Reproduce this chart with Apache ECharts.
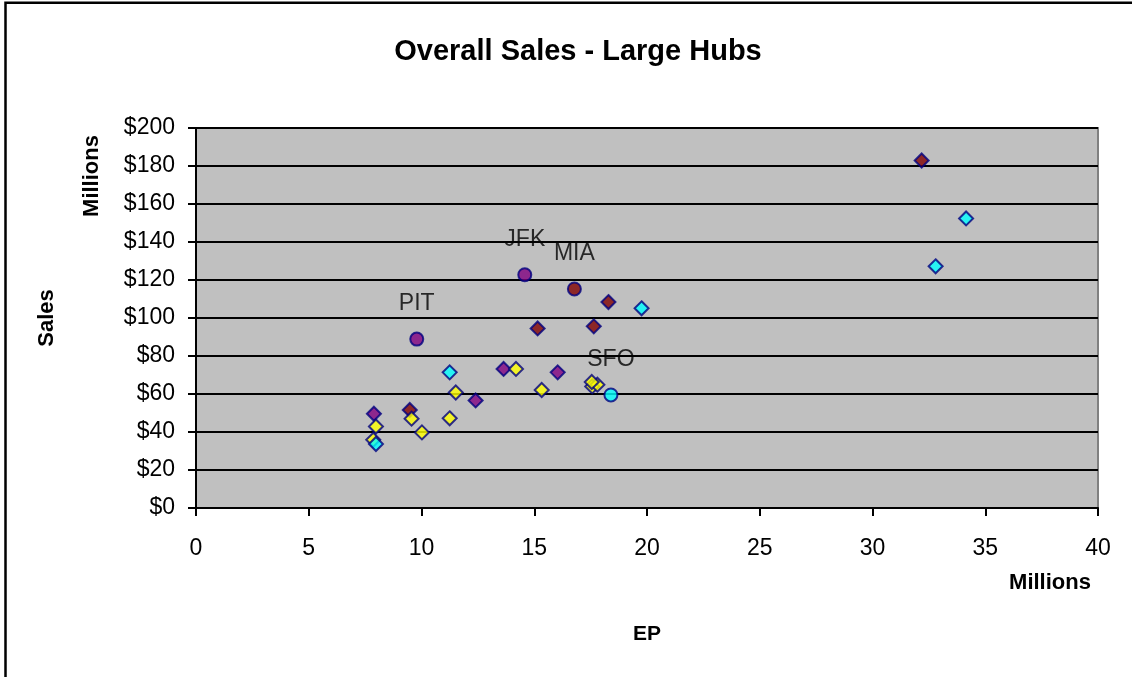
<!DOCTYPE html>
<html>
<head>
<meta charset="utf-8">
<title>Overall Sales - Large Hubs</title>
<script src="https://cdn.jsdelivr.net/npm/echarts@6/dist/echarts.min.js"></script>
<style>
  html, body { margin: 0; padding: 0; background: #fff; }
  #chart { width: 1132px; height: 677px; }
</style>
</head>
<body>
<div id="chart"></div>
<script>
// EP (millions) / Sales (millions) pairs, one array per marker colour
var maroonPts = [[9.48, 51.6], [15.15, 94.5], [17.64, 95.6], [18.29, 108.4], [32.18, 182.9]];
var purplePts = [[7.89, 49.6], [12.4, 56.6], [13.64, 73.2], [16.04, 71.4]];
var yellowPts = [[7.86, 35.9], [7.98, 42.9], [9.56, 47.0], [10.02, 39.8], [11.25, 47.2],
                 [11.52, 60.8], [14.19, 73.2], [15.33, 62.1], [17.57, 64.0], [17.8, 64.9], [17.55, 66.3]];
var cyanPts = [[7.98, 33.7], [11.25, 71.4], [19.76, 105.1], [32.8, 127.2], [34.15, 152.4]];

// labelled hubs (drawn as circles)
var hubNames = ['JFK', 'MIA', 'PIT', 'SFO'];
var hubPts = [[14.58, 122.8], [16.78, 115.3], [9.79, 88.9], [18.4, 59.5]];

var xTicks = [0, 40, 5];      // min, max, step
var yTicks = [0, 200, 20];

var FONT = 'Liberation Sans, Arial, sans-serif';
var hubColors = ['#800080', '#800000', '#800080', '#00FFFF'];

function diamonds(name, pts, color) {
    return {
        name: name,
        type: 'scatter',
        symbol: 'diamond',
        symbolSize: 14,
        data: pts,
        itemStyle: { color: color, borderColor: '#000080', borderWidth: 2 }
    };
}

var hubData = hubPts.map(function (p, i) {
    return {
        value: p,
        name: hubNames[i],
        itemStyle: { color: hubColors[i] }
    };
});

var chart = echarts.init(document.getElementById('chart'));
var option = {
    backgroundColor: '#fff',
    animation: false,
    title: {
        text: 'Overall Sales - Large Hubs',
        left: 573,
        textAlign: 'center',
        top: 32,
        textStyle: { fontFamily: FONT, fontSize: 29, fontWeight: 'bold', color: '#000' }
    },
    grid: {
        left: 196, right: 34, top: 128, bottom: 169,
        show: true,
        backgroundColor: '#C0C0C0',
        borderColor: '#808080',
        borderWidth: 2
    },
    xAxis: {
        type: 'value',
        min: xTicks[0], max: xTicks[1], interval: xTicks[2],
        name: 'EP',
        nameLocation: 'middle',
        nameGap: 116,
        nameTextStyle: { fontFamily: FONT, fontSize: 21, fontWeight: 'bold', color: '#000' },
        axisLine: { lineStyle: { color: '#000', width: 2 } },
        axisTick: { show: true, length: 8, lineStyle: { color: '#000', width: 2 } },
        axisLabel: { fontFamily: FONT, fontSize: 23, color: '#000', margin: 29 },
        splitLine: { show: false }
    },
    yAxis: {
        type: 'value',
        min: yTicks[0], max: yTicks[1], interval: yTicks[2],
        name: 'Sales',
        nameLocation: 'middle',
        nameGap: 138,
        nameRotate: 90,
        nameTextStyle: { fontFamily: FONT, fontSize: 22, fontWeight: 'bold', color: '#000' },
        axisLine: { lineStyle: { color: '#000', width: 2 } },
        axisTick: { show: true, length: 8, lineStyle: { color: '#000', width: 2 } },
        axisLabel: {
            fontFamily: FONT, fontSize: 23, color: '#000', margin: 21,
            formatter: function (v) { return '$' + v; }
        },
        splitLine: { show: true, lineStyle: { color: '#000', width: 2 } }
    },
    graphic: [
        {
            type: 'rect',
            shape: { x: 5.5, y: 2.8, width: 1400, height: 900 },
            style: { fill: 'none', stroke: '#000', lineWidth: 2.5 },
            silent: true
        },
        {
            type: 'text',
            x: 92, y: 176,
            rotation: Math.PI / 2,
            style: {
                text: 'Millions', fill: '#000',
                font: 'bold 22px ' + FONT,
                align: 'center', verticalAlign: 'middle'
            }
        },
        {
            type: 'text',
            x: 1050, y: 583,
            style: {
                text: 'Millions', fill: '#000',
                font: 'bold 22px ' + FONT,
                align: 'center', verticalAlign: 'middle'
            }
        }
    ],
    series: [
        diamonds('Maroon', maroonPts, '#800000'),
        diamonds('Purple', purplePts, '#800080'),
        diamonds('Yellow', yellowPts, '#FFFF00'),
        diamonds('Cyan', cyanPts, '#00FFFF'),
        {
            name: 'Hubs',
            type: 'scatter',
            symbol: 'circle',
            symbolSize: 13,
            data: hubData,
            itemStyle: { borderColor: '#000080', borderWidth: 2 },
            label: {
                show: true,
                position: 'top',
                distance: 16,
                formatter: '{b}',
                fontFamily: FONT,
                fontSize: 23,
                color: '#000'
            }
        }
    ]
};
chart.setOption(option);
</script>
</body>
</html>
